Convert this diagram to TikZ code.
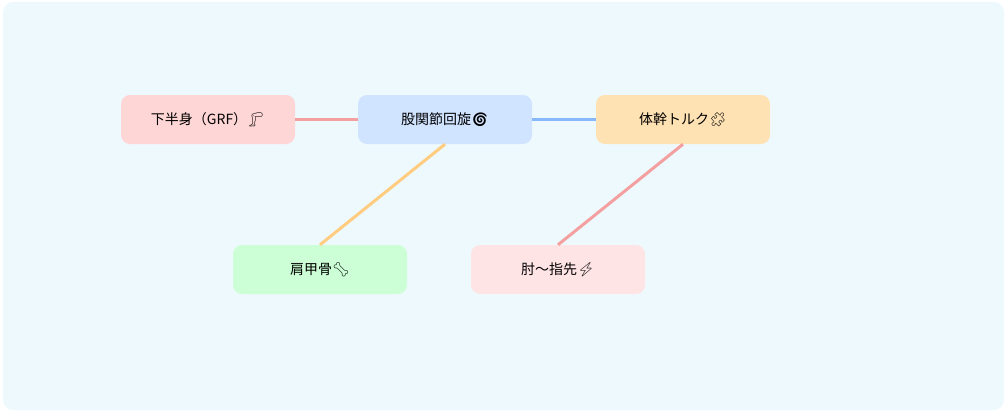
\documentclass[tikz,border=0pt]{standalone}
\usepackage{fontspec}
\setmainfont{Noto Sans CJK JP}
\newfontfamily\emo{Noto Emoji}
\definecolor{bgc}{HTML}{EEF9FD}
\definecolor{cA}{HTML}{FFD6D6}
\definecolor{cB}{HTML}{D0E3FF}
\definecolor{cC}{HTML}{FFE2B3}
\definecolor{cD}{HTML}{CCFFD6}
\definecolor{cE}{HTML}{FFE4E6}
\definecolor{lP}{HTML}{F4A0A0}
\definecolor{lB}{HTML}{8AB8FF}
\definecolor{lO}{HTML}{FFCC80}
\begin{document}
\begin{tikzpicture}[x=1pt,y=-1pt,
  box/.style={rounded corners=9pt,minimum width=174pt,minimum height=49pt,inner sep=0pt,font=\fontsize{14}{16}\selectfont},
  link/.style={line width=3pt}]
\useasboundingbox (0,0) rectangle (1007,412);
\fill[bgc,rounded corners=10pt] (3,2) rectangle (1004,410);
\node[box,fill=cA] (a) at (208,119.5) {下半身（GRF）{\emo 🦵}};
\node[box,fill=cB] (b) at (445,119.5) {股関節回旋{\emo 🌀}};
\node[box,fill=cC] (c) at (683,119.5) {体幹トルク{\emo 🧩}};
\node[box,fill=cD] (d) at (320,269.5) {肩甲骨{\emo 🦴}};
\node[box,fill=cE] (e) at (558,269.5) {肘〜指先{\emo ⚡}};
\draw[link,lP] (a.east) -- (b.west);
\draw[link,lB] (b.east) -- (c.west);
\draw[link,lO] (b.south) -- (d.north);
\draw[link,lP] (c.south) -- (e.north);
\end{tikzpicture}
\end{document}
